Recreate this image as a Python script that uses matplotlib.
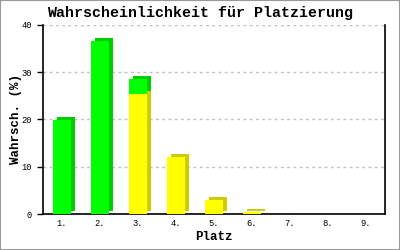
import matplotlib
matplotlib.use("Agg")
import matplotlib.pyplot as plt
import matplotlib.transforms as mtransforms
from matplotlib.patches import Rectangle
import numpy as np

# daten ----
plaetze = ["1.", "2.", "3.", "4.", "5.", "6.", "7.", "8.", "9."]
gruen = [19.8, 36.7, 3.2, 0, 0, 0, 0, 0, 0]
gelb = [0, 0, 25.4, 12.1, 3.0, 0.4, 0.1, 0, 0]
yticks = [0, 10, 20, 30, 40]
# ----------

mono = "Liberation Mono"
fig = plt.figure(figsize=(4, 2.5), dpi=100)
ax = fig.add_axes([0.1075, 0.144, 0.855, 0.756])

x = np.arange(len(plaetze))
w = 0.45
gruen = np.array(gruen)
gelb = np.array(gelb)

# verschobene (dunkle) rechtecke fuer den 3d-effekt
shift = ax.transData + mtransforms.ScaledTranslation(4/100, 3/100, fig.dpi_scale_trans)
for i in range(len(x)):
    if gelb[i] > 0:
        ax.bar(x[i], gelb[i], w, color="#cccc00", transform=shift, zorder=2)
    if gruen[i] > 0:
        ax.bar(x[i], gruen[i], w, bottom=gelb[i], color="#00cc00", transform=shift, zorder=2)

ax.bar(x, gelb, w, color="#ffff00", zorder=3)
ax.bar(x, gruen, w, bottom=gelb, color="#00ff00", zorder=3)

ax.set_xlim(-0.5, 8.5)
ax.set_ylim(0, 40)
ax.set_yticks(yticks)
ax.set_xticks(x)
ax.set_xticklabels(plaetze)
ax.yaxis.grid(True, linestyle=(0, (2, 2.5)), color="#c0c0c0", linewidth=1)
ax.set_axisbelow(True)

for lab in ax.get_xticklabels() + ax.get_yticklabels():
    lab.set_family(mono)
    lab.set_fontsize(6.3)
ax.tick_params(axis="y", length=4, width=1, pad=4, direction="out")
ax.tick_params(axis="x", length=0, pad=3.5)

ax.spines["top"].set_visible(False)
for s in ["left", "bottom", "right"]:
    ax.spines[s].set_linewidth(1.2)
    ax.spines[s].set_color("black")

fig.text(0.5, 0.948, "Wahrscheinlichkeit für Platzierung", family=mono, fontweight="bold",
         fontsize=10.8, ha="center", va="center")
ax.set_ylabel("Wahrsch. (%)", family=mono, fontweight="bold", fontsize=9)
ax.yaxis.set_label_coords(-0.062, 0.5)
ax.set_xlabel("Platz", family=mono, fontweight="bold", fontsize=9, labelpad=2)

fig.patches.append(Rectangle((0, 0), 1, 1, transform=fig.transFigure, fill=False,
                             ec="#999999", lw=1.5))

plt.savefig("out.png", dpi=100)
